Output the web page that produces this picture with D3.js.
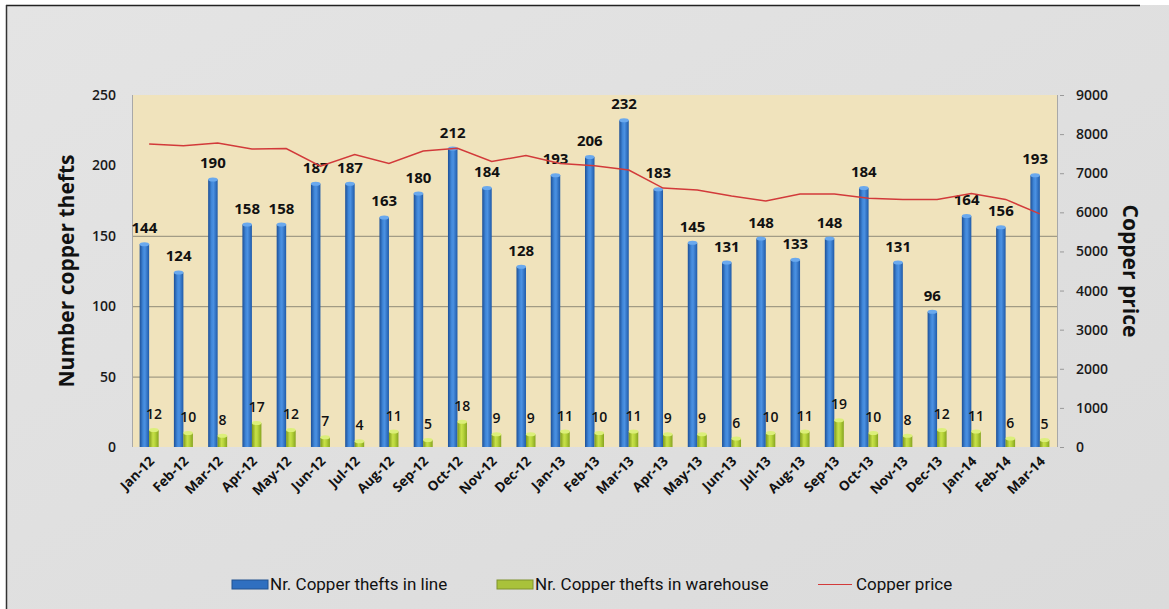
<!DOCTYPE html>
<html>
<head>
<meta charset="utf-8">
<script src="https://cdn.jsdelivr.net/npm/d3@7"></script>
<style>
  body { margin: 0; background: #fff; }
  svg { display: block; }
</style>
</head>
<body>
<svg id="chart" width="1169" height="609"></svg>
<script>
// Monthly copper thefts vs copper price
const months = ["Jan-12","Feb-12","Mar-12","Apr-12","May-12","Jun-12","Jul-12","Aug-12","Sep-12","Oct-12","Nov-12","Dec-12",
  "Jan-13","Feb-13","Mar-13","Apr-13","May-13","Jun-13","Jul-13","Aug-13","Sep-13","Oct-13","Nov-13","Dec-13",
  "Jan-14","Feb-14","Mar-14"];
const theftsInLine = [144,124,190,158,158,187,187,163,180,212,184,128,193,206,232,183,145,131,148,133,148,184,131,96,164,156,193];
const theftsInWarehouse = [12,10,8,17,12,7,4,11,5,18,9,9,11,10,11,9,9,6,10,11,19,10,8,12,11,6,5];
const copperPrice = [7750,7700,7770,7620,7630,7180,7480,7250,7570,7640,7300,7450,7250,7190,7080,6620,6570,6420,6290,6470,6470,6360,6330,6330,6480,6330,5960];
const leftTicks = [0,50,100,150,200,250];
const rightTicks = [0,1000,2000,3000,4000,5000,6000,7000,8000,9000];
const gridLines = [50,100,150];

const svg = d3.select("#chart");
const W = 1169, H = 609;
const plot = { left: 132, right: 1057, top: 95, bottom: 447 };

const defs = svg.append("defs");

// outer background gradient
const bgGrad = defs.append("linearGradient").attr("id", "bg").attr("x1", 0).attr("y1", 0).attr("x2", 1).attr("y2", 1);
bgGrad.append("stop").attr("offset", "0%").attr("stop-color", "#e4e4e4");
bgGrad.append("stop").attr("offset", "100%").attr("stop-color", "#dbdbdb");

// cylinder-like gradients for the bars
function barGradient(id, stops) {
  const g = defs.append("linearGradient").attr("id", id).attr("x1", 0).attr("x2", 1).attr("y1", 0).attr("y2", 0);
  stops.forEach(s => g.append("stop").attr("offset", s[0]).attr("stop-color", s[1]));
}
barGradient("blueBar", [["0%","#1d4f96"],["35%","#3f86d8"],["55%","#4b91e2"],["100%","#1f5aa8"]]);
barGradient("greenBar", [["0%","#7d9a1a"],["40%","#c7e049"],["60%","#b9d63c"],["100%","#86a41f"]]);

svg.append("rect").attr("x", 6).attr("y", 5).attr("width", W - 6).attr("height", H - 5).attr("fill", "url(#bg)");
svg.append("line").attr("x1", 6).attr("x2", 1140).attr("y1", 5.5).attr("y2", 5.5).attr("stroke", "#222").attr("stroke-width", 1.5);
svg.append("line").attr("x1", 6.5).attr("x2", 6.5).attr("y1", 5).attr("y2", H).attr("stroke", "#333").attr("stroke-width", 1.5);

// scales
const x = d3.scaleBand().domain(months).range([plot.left, plot.right]);
const xSub = d3.scaleBand().domain(["line", "warehouse"]).range([-9.5, 9.5]);
const yL = d3.scaleLinear().domain([0, 250]).range([plot.bottom, plot.top]);
const yR = d3.scaleLinear().domain([0, 9000]).range([plot.bottom, plot.top]);

// plot area
svg.append("rect")
  .attr("x", plot.left).attr("y", plot.top)
  .attr("width", plot.right - plot.left).attr("height", plot.bottom - plot.top)
  .attr("fill", "#f0e3bc");

svg.append("g").selectAll("line")
  .data(gridLines)
  .enter().append("line")
  .attr("x1", plot.left).attr("x2", plot.right)
  .attr("y1", d => yL(d) + 0.5).attr("y2", d => yL(d) + 0.5)
  .attr("stroke", "#8f8a78").attr("stroke-width", 1);

svg.append("line").attr("x1", plot.left + 0.5).attr("x2", plot.left + 0.5)
  .attr("y1", plot.top).attr("y2", plot.bottom).attr("stroke", "#a8a8a8");
svg.append("line").attr("x1", plot.right + 0.5).attr("x2", plot.right + 0.5)
  .attr("y1", plot.top).attr("y2", plot.bottom).attr("stroke", "#a8a8a8");

const font = "'Open Sans', 'Liberation Sans', sans-serif";

// left axis
const leftAxis = svg.append("g")
  .attr("transform", `translate(${plot.left - 16},0)`)
  .call(d3.axisLeft(yL).tickValues(leftTicks).tickSize(0).tickPadding(0));
leftAxis.select(".domain").remove();
leftAxis.selectAll("text")
  .attr("font-family", font).attr("font-size", 14).attr("font-weight", 600).attr("fill", "#1a1a1a");

// right axis
const rightAxis = svg.append("g")
  .attr("transform", `translate(${plot.right + 3},0)`)
  .call(d3.axisRight(yR).tickValues(rightTicks).tickFormat(d3.format("d")).tickSize(4).tickPadding(12));
rightAxis.select(".domain").remove();
rightAxis.selectAll("line").attr("stroke", "#999");
rightAxis.selectAll("text")
  .attr("font-family", font).attr("font-size", 14).attr("font-weight", 600).attr("fill", "#1a1a1a");

// bars
const groups = svg.append("g").selectAll("g")
  .data(months.map((m, i) => ({ m, line: theftsInLine[i], warehouse: theftsInWarehouse[i] })))
  .enter().append("g")
  .attr("transform", d => `translate(${x(d.m) + x.bandwidth() / 2},0)`);

function drawBars(key, fill, capColor) {
  groups.append("rect")
    .attr("x", xSub(key)).attr("width", xSub.bandwidth())
    .attr("y", d => yL(d[key])).attr("height", d => yL(0) - yL(d[key]))
    .attr("fill", fill);
  groups.append("ellipse")
    .attr("cx", xSub(key) + xSub.bandwidth() / 2).attr("cy", d => yL(d[key]))
    .attr("rx", xSub.bandwidth() / 2).attr("ry", 2)
    .attr("fill", capColor);
}
drawBars("line", "url(#blueBar)", "#6aa9ee");
drawBars("warehouse", "url(#greenBar)", "#dcef7a");

// copper price line
const priceLine = d3.line()
  .x((d, i) => x(months[i]) + x.bandwidth() / 2)
  .y(d => yR(d));
svg.append("path")
  .datum(copperPrice)
  .attr("d", priceLine)
  .attr("fill", "none").attr("stroke", "#d23a3a").attr("stroke-width", 1.5);

// value labels
groups.append("text")
  .attr("x", xSub("line") + xSub.bandwidth() / 2)
  .attr("y", d => yL(d.line) - 11)
  .attr("text-anchor", "middle")
  .attr("font-family", font).attr("font-size", 15).attr("font-weight", 700).attr("fill", "#111")
  .text(d => d.line);
groups.append("text")
  .attr("x", xSub("warehouse") + xSub.bandwidth() / 2)
  .attr("y", d => yL(d.warehouse) - 11)
  .attr("text-anchor", "middle")
  .attr("font-family", font).attr("font-size", 14).attr("font-weight", 600).attr("fill", "#111")
  .text(d => d.warehouse);

// x axis labels
svg.append("g").selectAll("text")
  .data(months)
  .enter().append("text")
  .attr("transform", d => `translate(${x(d) + x.bandwidth() / 2 + 6},${plot.bottom + 15}) rotate(-45)`)
  .attr("text-anchor", "end")
  .attr("font-family", font).attr("font-size", 13.5).attr("font-weight", 700).attr("fill", "#111")
  .text(d => d);

// axis titles
svg.append("text")
  .attr("transform", `translate(74,${(plot.top + plot.bottom) / 2}) rotate(-90)`)
  .attr("text-anchor", "middle")
  .attr("font-family", font).attr("font-size", 21).attr("font-weight", 700).attr("fill", "#111")
  .text("Number copper thefts");
svg.append("text")
  .attr("transform", `translate(1123,${(plot.top + plot.bottom) / 2}) rotate(90)`)
  .attr("text-anchor", "middle")
  .attr("font-family", font).attr("font-size", 21).attr("font-weight", 700).attr("fill", "#111")
  .text("Copper price");

// legend
const legendItems = [
  { label: "Nr. Copper thefts in line", type: "bar", color: "#2f6fc0", x: 232 },
  { label: "Nr. Copper thefts in warehouse", type: "bar", color: "#a9c23a", x: 497 },
  { label: "Copper price", type: "line", color: "#d23a3a", x: 818 }
];
const legendY = 584;
const legend = svg.append("g").selectAll("g")
  .data(legendItems)
  .enter().append("g")
  .attr("transform", d => `translate(${d.x},${legendY})`);
legend.filter(d => d.type === "bar").append("rect")
  .attr("x", 0).attr("y", -4).attr("width", 36).attr("height", 9)
  .attr("fill", d => d.color).attr("stroke", d => d3.color(d.color).darker(0.8));
legend.filter(d => d.type === "line").append("line")
  .attr("x1", 0).attr("x2", 34).attr("y1", 0.5).attr("y2", 0.5)
  .attr("stroke", d => d.color).attr("stroke-width", 1.2);
legend.append("text")
  .attr("x", 38).attr("y", 6)
  .attr("font-family", "Roboto, 'Liberation Sans', sans-serif").attr("font-size", 17).attr("fill", "#111")
  .text(d => d.label);
</script>
</body>
</html>
